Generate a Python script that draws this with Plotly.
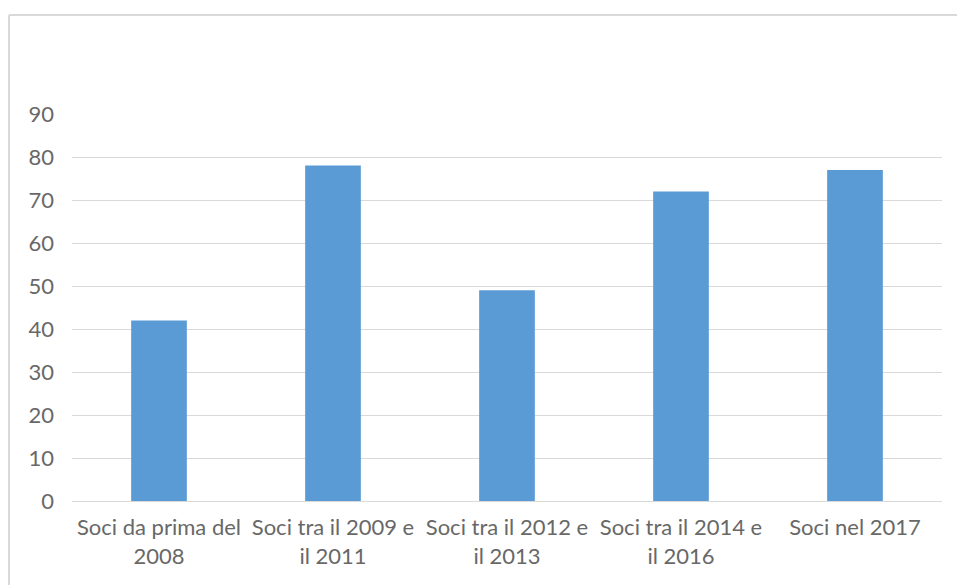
import plotly.graph_objects as go

categories = [
    "Soci da prima del<br>2008",
    "Soci tra il 2009 e<br>il 2011",
    "Soci tra il 2012 e<br>il 2013",
    "Soci tra il 2014 e<br>il 2016",
    "Soci nel 2017",
]
values = [42, 78, 49, 72, 77]
y_ticks = [0, 10, 20, 30, 40, 50, 60, 70, 80, 90]

W, H = 957, 585
ml, mr, mt, mb = 72, 15, 114, 84

fig = go.Figure(go.Bar(
    x=categories, y=values,
    marker=dict(color="#5b9bd5", line=dict(width=0)),
    width=0.32,
))

fig.update_layout(
    width=W, height=H,
    margin=dict(l=ml, r=mr, t=mt, b=mb),
    paper_bgcolor="white", plot_bgcolor="white",
    font=dict(family="Lato, Carlito, Calibri, sans-serif", size=22, color="#686868"),
    showlegend=False,
)
fig.update_yaxes(
    range=[0, 90], tickvals=y_ticks, showgrid=True, gridcolor="#d9d9d9", gridwidth=1,
    zeroline=True, zerolinecolor="#d9d9d9", zerolinewidth=1,
    showline=False, ticks="", ticklabelstandoff=17,
)
fig.update_xaxes(
    showgrid=False, showline=False, ticks="", ticklabelstandoff=11, tickangle=0,
)

pw = W - ml - mr
ph = H - mt - mb
def px_x(p):
    return (p - ml) / pw
def px_y(p):
    return (H - mb - p) / ph

border = dict(color="#d9d9d9", width=2)
fig.add_shape(type="line", xref="paper", yref="paper",
              x0=px_x(9), x1=px_x(W), y0=px_y(15), y1=px_y(15), line=border, layer="below")
fig.add_shape(type="line", xref="paper", yref="paper",
              x0=px_x(9), x1=px_x(9), y0=px_y(15), y1=px_y(H), line=border, layer="below")

fig.write_html(
    "out.html",
    config={"displayModeBar": False},
    post_script="document.body.style.margin='0';document.body.style.overflow='hidden';",
)
